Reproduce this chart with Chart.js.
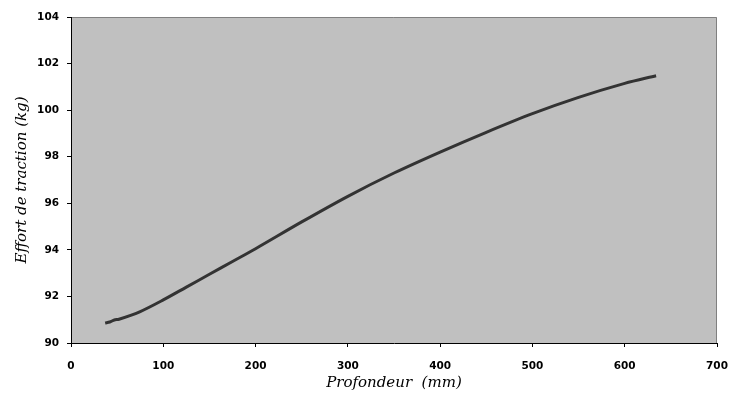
<!DOCTYPE html>
<html><head><meta charset="utf-8">
<script src="https://cdn.jsdelivr.net/npm/chart.js@4/dist/chart.umd.min.js"></script>
<style>html,body{margin:0;padding:0;background:#fff;}#wrap{width:729px;height:396px;}</style>
</head><body><div id="wrap"><canvas id="c" width="729" height="396"></canvas></div>
<script>
const depthMm = [37, 42, 47, 52, 75, 100, 125, 150, 175, 200, 250, 300, 350, 400, 450, 500, 550, 600, 634];
const tractionKg = [90.86, 90.9, 90.99, 91.02, 91.35, 91.85, 92.4, 92.95, 93.5, 94.05, 95.2, 96.3, 97.3, 98.2, 99.05, 99.85, 100.55, 101.15, 101.48];
const xTicks = [0, 100, 200, 300, 400, 500, 600, 700];
const yTicks = [90, 92, 94, 96, 98, 100, 102, 104];
const xTitle = 'Profondeur  (mm)';
const yTitle = 'Effort de traction (kg)';

const points = depthMm.map((x, i) => ({x: x, y: tractionKg[i]}));

const bgPlugin = {
  id: 'plotbg',
  beforeDraw(chart) {
    const {ctx, chartArea: a} = chart;
    ctx.save();
    ctx.fillStyle = '#C0C0C0';
    ctx.fillRect(a.left, a.top, a.right - a.left, a.bottom - a.top);
    ctx.strokeStyle = '#808080';
    ctx.lineWidth = 1;
    ctx.beginPath();
    ctx.moveTo(a.left, a.top + 0.5);
    ctx.lineTo(a.right - 0.5, a.top + 0.5);
    ctx.lineTo(a.right - 0.5, a.bottom);
    ctx.stroke();
    ctx.restore();
  }
};

const tickFont = {family: 'DejaVu Sans', size: 10.5, weight: 'bold'};
const titleFont = {family: 'DejaVu Serif', size: 15, style: 'italic', weight: 'normal'};

new Chart(document.getElementById('c'), {
  type: 'scatter',
  data: {datasets: [{
    data: points,
    showLine: true,
    borderColor: '#333333',
    borderWidth: 3,
    pointRadius: 0,
    tension: 0.3,
    fill: false
  }]},
  options: {
    responsive: false,
    animation: false,
    devicePixelRatio: 1,
    plugins: {legend: {display: false}, tooltip: {enabled: false}},
    layout: {padding: {top: 17, right: 12, left: 0, bottom: 0}},
    scales: {
      x: {
        type: 'linear', min: 0, max: 700,
        afterBuildTicks(s) { s.ticks = xTicks.map(v => ({value: v})); },
        afterFit(s) { s.height = 53; s.paddingRight = 0; s.paddingLeft = 0; },
        ticks: {font: tickFont, color: '#000', padding: 13, maxRotation: 0},
        grid: {drawOnChartArea: false, drawTicks: true, tickLength: 4, color: '#000'},
        border: {display: true, color: '#000', width: 1},
        title: {display: true, text: xTitle, font: titleFont, color: '#000', padding: {top: 4, bottom: 4}}
      },
      y: {
        type: 'linear', min: 90, max: 104,
        afterBuildTicks(s) { s.ticks = yTicks.map(v => ({value: v})); },
        afterFit(s) { s.width = 71; s.paddingTop = 0; s.paddingBottom = 0; },
        ticks: {font: tickFont, color: '#000', padding: 8},
        grid: {drawOnChartArea: false, drawTicks: true, tickLength: 4, color: '#000'},
        border: {display: true, color: '#000', width: 1},
        title: {display: true, text: yTitle, font: titleFont, color: '#000', padding: {top: 13, bottom: 13}}
      }
    }
  },
  plugins: [bgPlugin]
});
</script></body></html>
